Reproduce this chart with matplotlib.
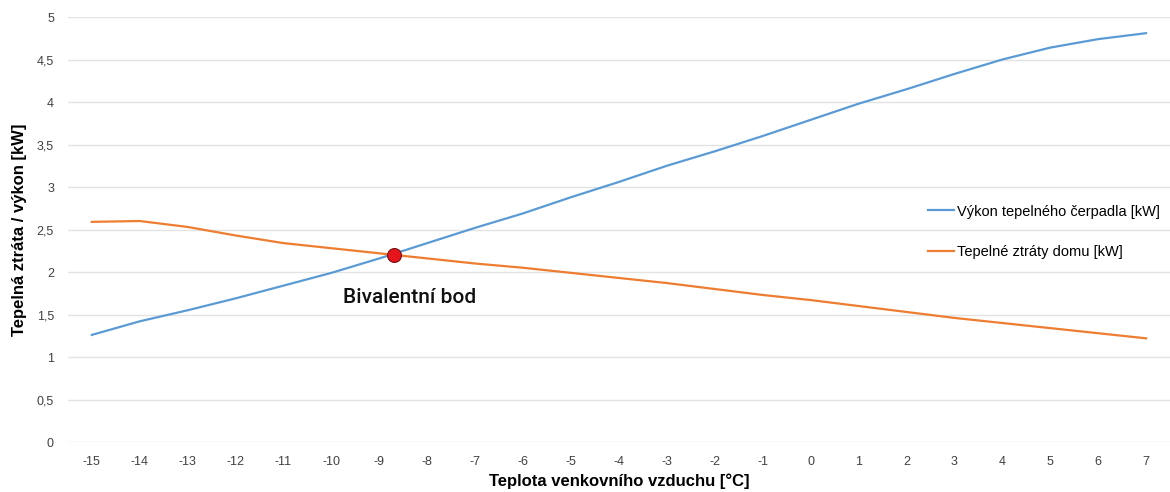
import matplotlib as mpl
import matplotlib.pyplot as plt

# outdoor air temperature [°C] (category axis)
temps = list(range(-15, 8))

# heat pump output [kW]
pump_output = [1.26, 1.42, 1.55, 1.69, 1.84, 1.99, 2.16, 2.34, 2.52, 2.69, 2.88, 3.06,
               3.25, 3.42, 3.60, 3.79, 3.98, 4.15, 4.33, 4.50, 4.64, 4.74, 4.81]
# house heat loss [kW]
house_loss = [2.59, 2.60, 2.53, 2.43, 2.34, 2.28, 2.22, 2.16, 2.10, 2.05, 1.99, 1.93,
              1.87, 1.80, 1.73, 1.67, 1.60, 1.53, 1.46, 1.40, 1.34, 1.28, 1.22]

# bivalent point
biv_temp = -8.7
biv_power = 2.2

yticks = [0, 0.5, 1, 1.5, 2, 2.5, 3, 3.5, 4, 4.5, 5]
ytick_labels = ['0', '0,5', '1', '1,5', '2', '2,5', '3', '3,5', '4', '4,5', '5']

mpl.rcParams['font.family'] = ['Liberation Sans', 'DejaVu Sans']

fig = plt.figure(figsize=(11.7, 4.92), dpi=100)
ax = fig.add_axes([0.058, 0.1016, 0.942, 0.8638])

ax.plot(temps, pump_output, color='#5B9BD5', lw=1.6, label='Výkon tepelného čerpadla [kW]', zorder=3)
ax.plot(temps, house_loss, color='#ED7D31', lw=1.6, label='Tepelné ztráty domu [kW]', zorder=3)

# bivalent point marker + label
ax.plot([biv_temp], [biv_power], 'o', ms=10, mfc='#E8141B', mec='#7a1010', mew=0.8, zorder=4)
ax.text(biv_temp - 1.06, biv_power - 0.5, 'Bivalentní bod', fontsize=15, color='#111111',
        family=['Roboto', 'Liberation Sans'], fontweight='medium', ha='left', va='center')

ax.set_xlim(-15.5, 7.5)
ax.set_ylim(0, 5)
ax.set_xticks(temps)
ax.set_xticklabels([str(t) for t in temps])
ax.set_yticks(yticks)
ax.set_yticklabels(ytick_labels)
ax.tick_params(length=0, labelsize=9, colors='#404040', pad=10)
ax.tick_params(axis='y', pad=10)

ax.grid(axis='y', color='#e3e3e3', lw=1)
ax.set_axisbelow(True)
for s in ax.spines.values():
    s.set_visible(False)

ax.set_xlabel('Teplota venkovního vzduchu [°C]', fontsize=12, fontweight='bold', labelpad=4)
ax.set_ylabel('Tepelná ztráta / výkon [kW]', fontsize=12, fontweight='bold', labelpad=7)

ax.legend(loc='center left', bbox_to_anchor=(0.78, 0.495), frameon=False,
          handlelength=1.8, handletextpad=0.25, labelspacing=1.8, fontsize=10.5,
          borderpad=0, borderaxespad=0)

fig.savefig('out.png', dpi=100)
